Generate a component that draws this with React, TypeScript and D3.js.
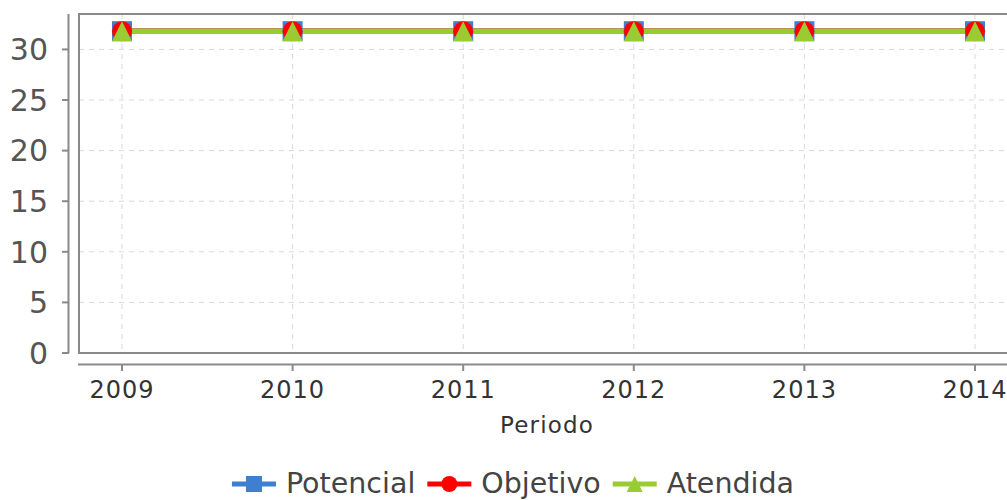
import React, { useEffect, useRef } from "react";
import * as d3 from "d3";

const categories = ["2009", "2010", "2011", "2012", "2013", "2014"];
const potencial = [31.8, 31.8, 31.8, 31.8, 31.8, 31.8];
const objetivo = [31.8, 31.8, 31.8, 31.8, 31.8, 31.8];
const atendida = [31.8, 31.8, 31.8, 31.8, 31.8, 31.8];
const yTicks = [0, 5, 10, 15, 20, 25, 30];
const seriesNames = ["Potencial", "Objetivo", "Atendida"];
const seriesColors = ["#3f7fcf", "#ff0000", "#99cc33"];
const xLabel = "Periodo";

const W = 1007;
const H = 500;
const FONT = "'DejaVu Sans', sans-serif";

export default function App() {
  const ref = useRef<SVGSVGElement | null>(null);

  useEffect(() => {
    const svg = d3.select(ref.current);
    svg.selectAll("*").remove();

    const plotL = 79, plotR = 1018, plotT = 14, plotB = 353;
    const x = d3.scalePoint<string>().domain(categories).range([plotL, plotR]).padding(0.252);
    const y = d3.scaleLinear().domain([0, 33.5]).range([plotB, plotT]);

    // gridlines
    const grid = svg.append("g");
    yTicks.forEach((t) => {
      grid.append("line").attr("x1", plotL).attr("x2", plotR)
        .attr("y1", y(t)).attr("y2", y(t))
        .attr("stroke", "#d9d9d9").attr("stroke-width", 1).attr("stroke-dasharray", "5,5");
    });
    categories.forEach((c) => {
      grid.append("line").attr("x1", x(c)!).attr("x2", x(c)!)
        .attr("y1", plotT).attr("y2", plotB)
        .attr("stroke", "#d9d9d9").attr("stroke-width", 1).attr("stroke-dasharray", "5,5");
    });

    // plot outline
    svg.append("rect").attr("x", plotL).attr("y", plotT)
      .attr("width", plotR - plotL).attr("height", plotB - plotT)
      .attr("fill", "none").attr("stroke", "#8a8a8a").attr("stroke-width", 2);

    // y axis
    const yAx = svg.append("g");
    yAx.append("line").attr("x1", 68.5).attr("x2", 68.5).attr("y1", plotT).attr("y2", plotB)
      .attr("stroke", "#8a8a8a").attr("stroke-width", 2);
    yTicks.forEach((t) => {
      yAx.append("line").attr("x1", 62).attr("x2", 69).attr("y1", y(t)).attr("y2", y(t))
        .attr("stroke", "#8a8a8a").attr("stroke-width", 2);
      yAx.append("text").attr("x", 48).attr("y", y(t)).attr("dy", "0.36em")
        .attr("text-anchor", "end").attr("font-family", FONT).attr("font-size", 30)
        .attr("fill", "#555").text(String(t));
    });

    // x axis
    const xAx = svg.append("g");
    xAx.append("line").attr("x1", 78).attr("x2", plotR).attr("y1", 364.5).attr("y2", 364.5)
      .attr("stroke", "#8a8a8a").attr("stroke-width", 2);
    categories.forEach((c) => {
      xAx.append("line").attr("x1", x(c)!).attr("x2", x(c)!).attr("y1", 364).attr("y2", 371)
        .attr("stroke", "#8a8a8a").attr("stroke-width", 2);
      xAx.append("text").attr("x", x(c)!).attr("y", 398).attr("text-anchor", "middle")
        .attr("font-family", FONT).attr("font-size", 24).attr("letter-spacing", 1)
        .attr("fill", "#333").text(c);
    });
    svg.append("text").attr("x", 547).attr("y", 433).attr("text-anchor", "middle")
      .attr("font-family", FONT).attr("font-size", 23).attr("letter-spacing", 1.2)
      .attr("fill", "#333").text(xLabel);

    // series
    const data = [potencial, objetivo, atendida];
    const line = d3.line<number>().x((_, i) => x(categories[i])!).y((d) => y(d));
    data.forEach((vals, si) => {
      svg.append("path").attr("d", line(vals)!).attr("fill", "none")
        .attr("stroke", seriesColors[si]).attr("stroke-width", 5.5);
    });

    const drawMarker = (g: any, si: number, cx: number, cy: number, s: number) => {
      const h = s / 2;
      if (si === 0) {
        g.append("rect").attr("x", cx - h).attr("y", cy - h).attr("width", s).attr("height", s)
          .attr("fill", seriesColors[0]);
      } else if (si === 1) {
        g.append("circle").attr("cx", cx).attr("cy", cy).attr("r", h).attr("fill", seriesColors[1]);
      } else {
        g.append("path").attr("d", `M${cx},${cy - h}L${cx + h},${cy + h}L${cx - h},${cy + h}Z`)
          .attr("fill", seriesColors[2]);
      }
    };

    data.forEach((vals, si) => {
      vals.forEach((v, i) => drawMarker(svg, si, x(categories[i])!, y(v), 20));
    });

    // legend
    const leg = svg.append("g");
    const symW = 44, gapSym = 10, gapItem = 12;
    const items = seriesNames.map((n, i) => {
      const t = leg.append("text").attr("y", 493).attr("font-family", FONT)
        .attr("font-size", 28.5).attr("fill", "#444").text(n);
      const w = (t.node() as SVGTextElement).getComputedTextLength();
      return { t, w, i };
    });
    const total = items.reduce((a, it) => a + symW + gapSym + it.w, 0) + gapItem * (items.length - 1);
    let cx = 513 - total / 2;
    items.forEach((it) => {
      const ly = 484;
      leg.append("line").attr("x1", cx).attr("x2", cx + symW).attr("y1", ly).attr("y2", ly)
        .attr("stroke", seriesColors[it.i]).attr("stroke-width", 5);
      drawMarker(leg, it.i, cx + symW / 2, ly, 16);
      it.t.attr("x", cx + symW + gapSym);
      cx += symW + gapSym + it.w + gapItem;
    });
  }, []);

  return (
    <svg ref={ref} width={W} height={H} style={{ display: "block", position: "absolute", left: 0, top: 0, background: "#fff" }} />
  );
}
